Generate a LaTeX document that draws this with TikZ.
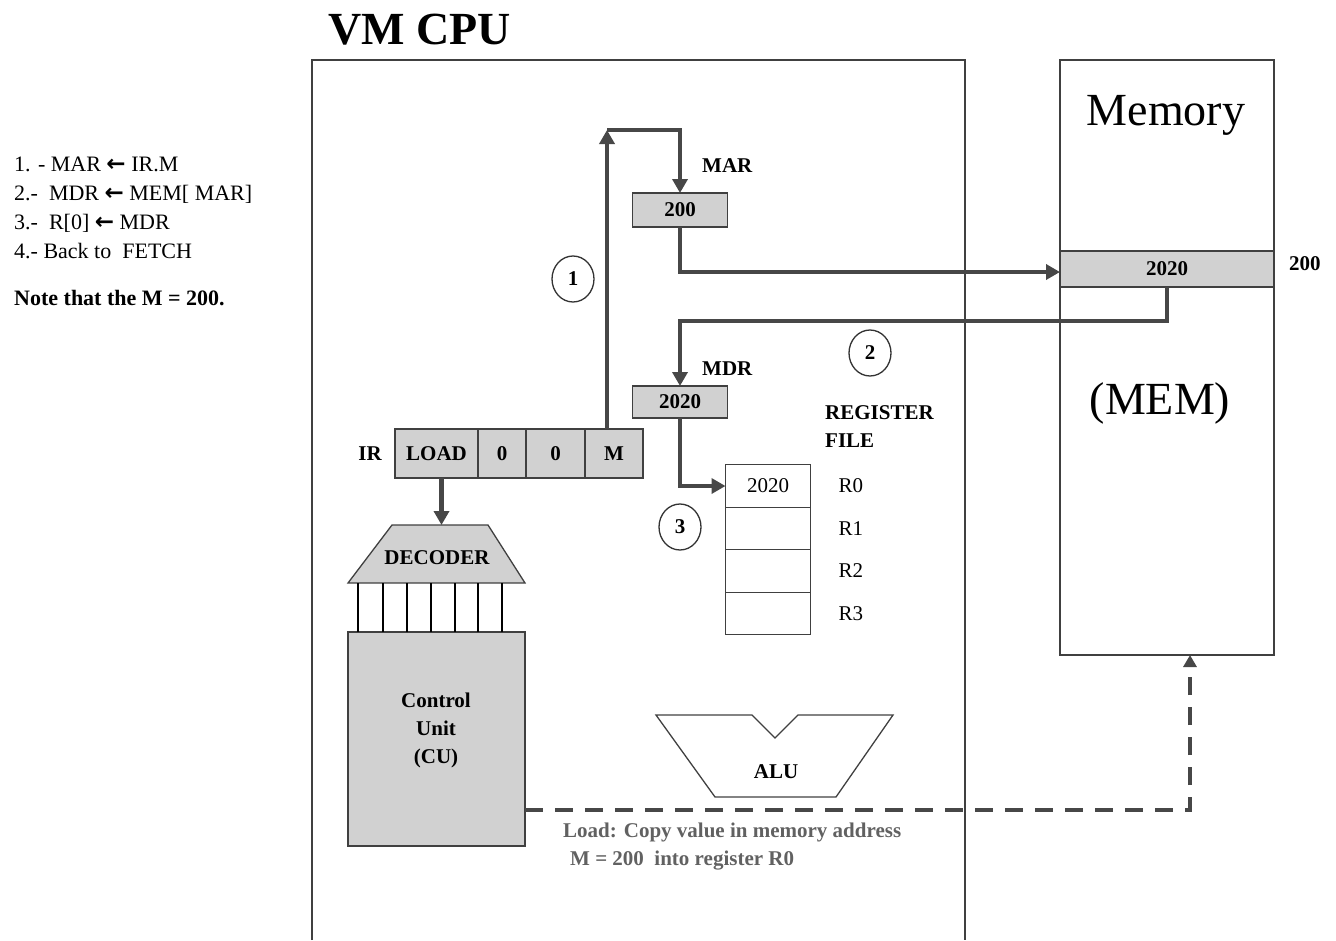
\documentclass[tikz,border=0pt]{standalone}
\usepackage{fontspec}
\setmainfont{Liberation Serif}
\newfontfamily\setas{DejaVu Sans}
\usetikzlibrary{arrows.meta,positioning,shapes.geometric}

\newcommand{\txtn}{\fontsize{21}{28}\selectfont}
\newcommand{\txtb}{\fontsize{21}{28}\selectfont\bfseries}
\newcommand{\txtpasso}{\fontsize{22}{29}\selectfont}
\newcommand{\txtgrande}{\fontsize{46}{52}\selectfont}
\newcommand{\recebe}{{\setas\bfseries\fontsize{23}{29}\selectfont ←}}

\begin{document}
\begin{tikzpicture}[x=1pt, y=-1pt,
    registro/.style={draw=black!75, line width=1.3pt, fill=black!18, inner sep=0pt, outer sep=0pt, font=\txtb},
    celula/.style={draw=black!75, line width=1.3pt, minimum width=85pt, minimum height=42.5pt, inner sep=0pt, outer sep=0pt, font=\txtn},
    seta/.style={-{Triangle[length=14pt,width=15pt]}, line width=4.5pt, draw=black!72},
    passo/.style={ellipse, draw=black!80, line width=1.3pt, minimum width=42pt, minimum height=46pt, inner sep=0pt, font=\txtb},
    rotulo/.style={inner sep=0pt, font=\txtb}
]
    \useasboundingbox (0,0) rectangle (1336,940);

    % Passos da instrucao
    \node[anchor=north west, align=left, inner sep=0pt, font=\txtpasso] (passos) at (14,157)
        {1. - MAR \recebe\ IR.M\\
         2.-\ \ MDR \recebe\ MEM[ MAR]\\
         3.-\ \ R[0] \recebe\ MDR\\
         4.- Back to\ \ FETCH\\[18pt]
         \bfseries Note that the M = 200.};

    % Titulo e caixa da CPU
    \node[anchor=base west, inner sep=0pt, font=\txtgrande\bfseries] (titulo) at (328,44) {VM CPU};
    \draw[draw=black!75, line width=1.3pt] (312,940) -- (312,60) -- (965,60) -- (965,940);

    % Memoria
    \node[draw=black!75, line width=1.3pt, minimum width=214pt, minimum height=595pt, inner sep=0pt, outer sep=0pt] (mem) at (1167,357.5) {};
    \node[anchor=base, inner sep=0pt, font=\txtgrande] (memtxt) at (1166,125) {Memory};
    \node[anchor=base, inner sep=0pt, font=\txtgrande] (memnome) at (1160,414) {(MEM)};
    \node[registro, minimum width=214pt, minimum height=36pt] (slot) at (1167,269) {2020};
    \node[rotulo, anchor=west] (end) at (1289,264) {200};

    % IR
    \node[registro, minimum width=83pt, minimum height=49pt] (load) at (436.5,453.5) {LOAD};
    \node[registro, minimum width=48pt, minimum height=49pt, right=0pt of load] (zeroa) {0};
    \node[registro, minimum width=59pt, minimum height=49pt, right=0pt of zeroa] (zerob) {0};
    \node[registro, minimum width=58pt, minimum height=49pt, right=0pt of zerob] (m) {M};
    \node[rotulo, left=13pt of load] (ir) {IR};

    % MAR e MDR
    \node[registro, minimum width=95pt, minimum height=34pt] (mar) at (680,210) {200};
    \node[rotulo, anchor=base west] (martxt) at (702,172) {MAR};
    \node[registro, minimum width=95pt, minimum height=32pt] (mdr) at (680,402) {2020};
    \node[rotulo, anchor=base west] (mdrtxt) at (702,375) {MDR};

    % Banco de registradores
    \node[rotulo, anchor=north west, align=left] (banco) at (825,405) {REGISTER\\FILE};
    \node[celula] (r0) at (768,486) {2020};
    \node[celula, below=0pt of r0] (r1) {};
    \node[celula, below=0pt of r1] (r2) {};
    \node[celula, below=0pt of r2] (r3) {};
    \foreach \i in {0,...,3}
        \node[inner sep=0pt, font=\txtn, right=28pt of r\i] (nr\i) {R\i};

    % Decodificador e unidade de controle
    \draw[draw=black!75, line width=1.3pt, fill=black!18] (348,583) -- (392,525) -- (488,525) -- (525,583) -- cycle;
    \coordinate (dectopo) at (436.5,525);
    \node[rotulo] (dec) at (437,558) {DECODER};
    \node[registro, minimum width=177pt, minimum height=214pt] (cu) at (436.5,739) {};
    \node[rotulo, align=center] (cutxt) at (436,730) {Control\\Unit\\(CU)};
    \foreach \x/\w in {358/2.4,383/1.3,407/2.4,431/1.3,455/1.3,478/1.3,502/1.3}
        \draw[line width=\w pt] (\x,583) -- (\x,632);

    % ALU
    \draw[draw=black!75, line width=1.3pt] (656,715) -- (752,715) -- (775,738) -- (798,715) -- (893,715)
        -- (836,797) -- (715,797) -- cycle;
    \node[rotulo] (alu) at (776,772) {ALU};

    % Passo 1: IR.M -> MAR -> memoria
    \coordinate (p1) at (607,130);
    \draw[seta] ([xshift=-7pt]m.north) -- (p1);
    \draw[seta] (p1) -| (mar.north);
    \draw[seta] (mar.south) |- ([yshift=-3pt]slot.west);
    \node[passo] (c1) at (573,279) {1};

    % Passo 2: memoria -> MDR
    \coordinate (p2) at (680,321);
    \draw[seta] (slot.south) |- (p2) -- (mdr.north);
    \node[passo] (c2) at (870,353) {2};

    % Passo 3: MDR -> R0
    \draw[seta] (mdr.south) |- (r0.west);
    \node[passo] (c3) at (680,527) {3};

    % LOAD -> decodificador
    \draw[seta] ([xshift=5pt]load.south) -- ([xshift=5pt]dectopo);

    % Controle -> memoria
    \coordinate (p3) at (1190,810);
    \draw[-{Triangle[length=12pt,width=13pt]}, line width=4.5pt, draw=black!72, dash pattern=on 18pt off 12pt]
        (cu.east |- p3) -- (p3) -- (mem.south -| p3);
    \node[anchor=north west, align=left, inner sep=0pt, font=\txtb, text=black!62] (nota) at (563,823)
        {Load: Copy value in memory address\\
         \hspace{7pt}M = 200\ \ into register R0};
\end{tikzpicture}
\end{document}
